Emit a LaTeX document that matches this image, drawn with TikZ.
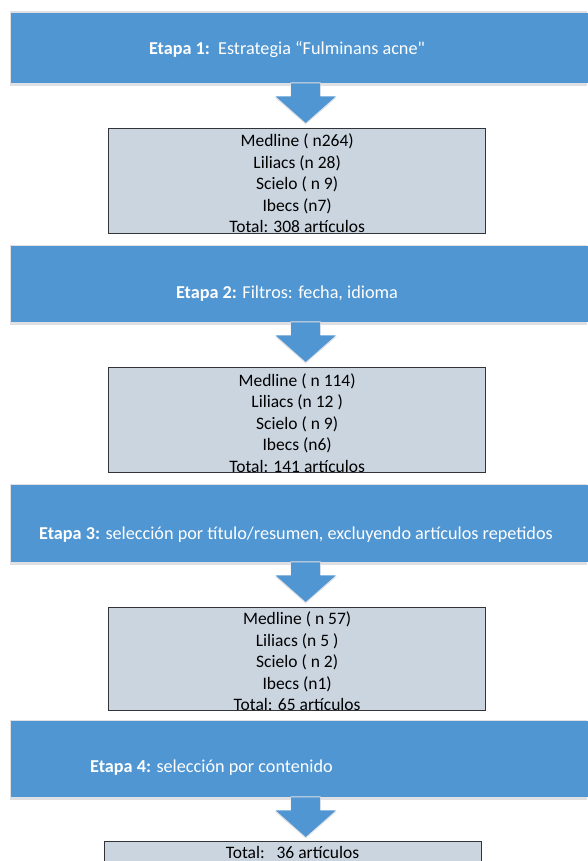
\documentclass[tikz,border=0pt]{standalone}
\usepackage{fontspec}
\setmainfont{Carlito}
\newfontfamily\plaincarlito{Carlito}
\definecolor{bannerblue}{RGB}{80,150,210}
\definecolor{boxfill}{RGB}{203,213,224}
\definecolor{boxedge}{RGB}{50,52,58}
\definecolor{shadowgray}{RGB}{222,224,228}
\tikzset{
  banner/.style={fill=bannerblue, draw=none, minimum width=577pt, minimum height=70pt, inner sep=0pt, anchor=north west},
  bannertext/.style={text=white, font=\fontsize{18.2}{21}\selectfont, inner sep=0pt},
  resbox/.style={fill=boxfill, draw=boxedge, line width=1.3pt, minimum width=377pt, inner sep=0pt, anchor=north west},
  boxtext/.style={align=center, font=\fontsize{17.5}{21.5}\selectfont, inner sep=0pt},
  downarr/.pic={
    \fill[shadowgray] (-15,-1) -- (-15,14) -- (-31,14) -- (0,41) -- (31,14) -- (15,14) -- (15,-1) -- cycle;
    \fill[bannerblue] (-14.5,0) -- (-14.5,13) -- (-30,13) -- (0,39.5) -- (30,13) -- (14.5,13) -- (14.5,0) -- cycle;
  }
}
\begin{document}
\begin{tikzpicture}[x=1pt,y=-1pt]
\useasboundingbox (0,0) rectangle (587,861);
\fill[white] (0,0) rectangle (587,861);

% Stage 1
\fill[shadowgray] (10,11.5) rectangle (587,86);
\node[banner, minimum height=70pt] (ban1) at (11,13) {};
\node[bannertext] (t1) at (287,50) {\textbf{Etapa 1:}\ \ Estrategia “Fulminans acne{\plaincarlito"}};
\pic at ([xshift=6pt]ban1.south) {downarr};
\node[resbox, minimum height=105pt] (box1) at (108,128) {};
\node[boxtext] (l1) at ([yshift=-2.5pt]box1.center) {Medline ( n264)\\Liliacs (n 28)\\Scielo ( n 9)\\Ibecs (n7)\\Total: 308 artículos};

% Stage 2
\fill[shadowgray] (10,244.5) rectangle (587,325);
\node[banner, minimum height=76pt] (ban2) at (11,246) {};
\node[bannertext] (t2) at (287,294) {\textbf{Etapa 2:} Filtros: fecha, idioma};
\pic at ([xshift=6pt]ban2.south) {downarr};
\node[resbox, minimum height=105pt] (box2) at (108,367) {};
\node[boxtext] (l2) at ([yshift=-3pt]box2.center) {Medline ( n 114)\\Liliacs (n 12 )\\Scielo ( n 9)\\Ibecs (n6)\\Total: 141 artículos};

% Stage 3
\fill[shadowgray] (10,483.5) rectangle (587,565);
\node[banner, minimum height=77pt] (ban3) at (11,485) {};
\node[bannertext] (t3) at (296,535) {\textbf{Etapa 3:} selección por título/resumen, excluyendo artículos repetidos};
\pic at ([xshift=6pt]ban3.south) {downarr};
\node[resbox, minimum height=103pt] (box3) at (108,607) {};
\node[boxtext] (l3) at ([yshift=-2.5pt]box3.center) {Medline ( n 57)\\Liliacs (n 5 )\\Scielo ( n 2)\\Ibecs (n1)\\Total: 65 artículos};

% Stage 4
\fill[shadowgray] (10,719.5) rectangle (587,800);
\node[banner, minimum height=76pt] (ban4) at (11,721) {};
\node[bannertext, anchor=west] (t4) at (90,768) {\textbf{Etapa 4:} selección por contenido};
\pic at ([xshift=6pt]ban4.south) {downarr};
\node[resbox, minimum width=377pt, minimum height=40pt] (box4) at (104,841) {};
\node[boxtext] (l4) at (292.5,852) {Total:\ \ \ 36 artículos};
\end{tikzpicture}
\end{document}
